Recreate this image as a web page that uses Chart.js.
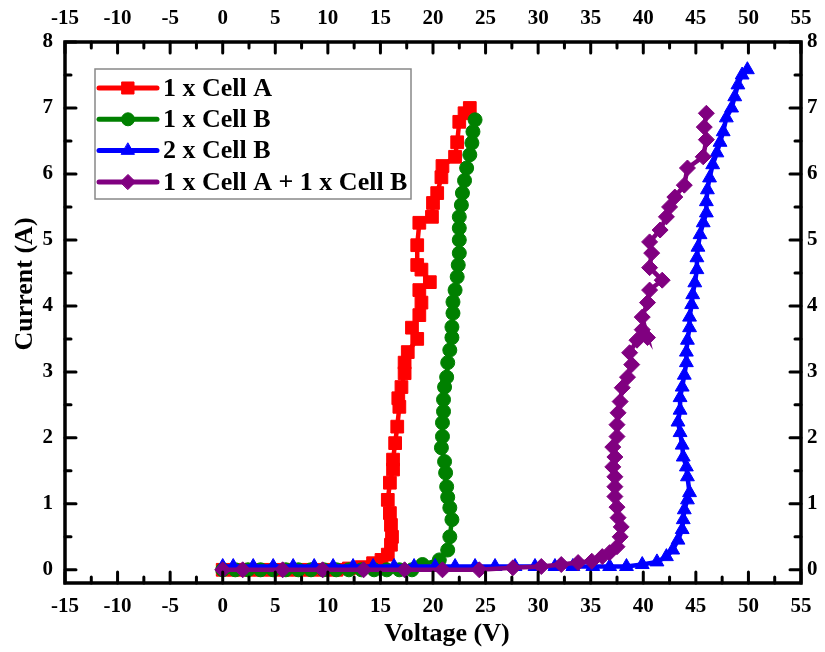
<!DOCTYPE html>
<html>
<head>
<meta charset="utf-8">
<script src="https://cdn.jsdelivr.net/npm/chart.js@4.4.1/dist/chart.umd.min.js"></script>
<style>
  html, body { margin: 0; padding: 0; background: #fff; }
</style>
</head>
<body>
<canvas id="iv-chart" width="825" height="652"></canvas>
<script>
// axis ticks
const xTickLabels = [-15, -10, -5, 0, 5, 10, 15, 20, 25, 30, 35, 40, 45, 50, 55];
const yTickLabels = [0, 1, 2, 3, 4, 5, 6, 7, 8];

const seriesNames = ['1 x Cell A', '1 x Cell B', '2 x Cell B', '1 x Cell A + 1 x Cell B'];

// 1 x Cell A (red squares)
const cellA_V = [0, 1.2, 2.4, 3.6, 4.8, 6.0, 7.2, 8.4, 9.6, 10.8, 12.0, 13.2,
  14.3, 15.1, 15.7, 16.0, 16.1, 16.0, 15.9, 15.7, 15.9, 16.2,
  16.2, 16.4, 16.6, 16.8, 16.7, 17.0, 17.3, 17.3, 17.6, 18.5,
  18.0, 18.7, 18.9, 18.7, 19.7, 18.9, 18.5, 18.5, 18.7, 19.9,
  20.0, 20.4, 20.8, 20.9, 22.1, 22.3, 22.5, 23.0, 23.5];
const cellA_I = [0, 0, 0, 0, 0, 0, 0, 0, 0, 0, 0.02, 0.04,
  0.1, 0.15, 0.23, 0.38, 0.5, 0.68, 0.86, 1.06, 1.32, 1.52,
  1.67, 1.92, 2.17, 2.47, 2.6, 2.77, 2.98, 3.14, 3.3, 3.5,
  3.67, 3.86, 4.05, 4.24, 4.36, 4.55, 4.62, 4.92, 5.26, 5.35,
  5.56, 5.71, 5.95, 6.12, 6.26, 6.48, 6.79, 6.92, 7.0];

// 1 x Cell B (green circles)
const cellB_V = [0, 1.2, 2.4, 3.6, 4.8, 6.0, 7.2, 8.4, 9.6, 10.8, 12.0, 13.2, 14.4, 15.6, 16.8, 18.0,
  19.0, 20.6, 21.4, 21.6, 21.8, 21.6, 21.4, 21.3, 21.2, 21.1,
  20.8, 20.9, 20.9, 21.0, 21.0, 21.1, 21.3, 21.4, 21.6, 21.8,
  21.8, 21.9, 21.9, 22.1, 22.3,
  22.4, 22.5, 22.5, 22.5, 22.5, 22.7, 22.8, 23.0, 23.2, 23.5, 23.7, 23.8, 24.0];
const cellB_I = [0, 0, 0, 0, 0, 0, 0, 0, 0, 0, 0, 0, 0, 0, 0, 0,
  0.08, 0.15, 0.3, 0.5, 0.76, 0.94, 1.1, 1.26, 1.47, 1.64,
  1.85, 2.02, 2.23, 2.4, 2.58, 2.77, 2.92, 3.14, 3.33, 3.52,
  3.68, 3.89, 4.06, 4.24, 4.44,
  4.62, 4.8, 5.0, 5.18, 5.35, 5.53, 5.71, 5.9, 6.09, 6.29, 6.47, 6.64, 6.82];

// 2 x Cell B (blue triangles)
const twoB_V = [0, 1.0, 2.9, 4.8, 6.7, 8.7, 10.5, 12.4, 14.3, 16.3, 18.2,
  20.2, 22.1, 24.0, 25.9, 27.8, 29.7, 31.6, 33.3, 35.2, 36.8,
  38.4, 39.9, 41.3, 42.2, 42.8, 43.3, 43.7, 43.8, 43.9, 44.2,
  44.4, 44.2, 44.1, 43.8, 43.7, 43.5, 43.3, 43.5, 43.5, 43.7,
  43.9, 44.1, 44.1, 44.2, 44.4, 44.4, 44.6, 44.7, 44.9, 45.1,
  45.1, 45.2, 45.4, 45.7, 46.0, 46.0, 46.1, 46.3, 46.6, 47.0,
  47.3, 47.6, 47.9, 48.4, 48.7, 49.0, 49.4, 49.9];
const twoB_I = [0.05, 0.05, 0.05, 0.05, 0.05, 0.05, 0.05, 0.05, 0.05, 0.05, 0.05,
  0.05, 0.05, 0.05, 0.05, 0.05, 0.05, 0.05, 0.05, 0.05, 0.05,
  0.05, 0.08, 0.12, 0.2, 0.3, 0.45, 0.61, 0.76, 0.91, 1.06,
  1.17, 1.41, 1.56, 1.71, 1.89, 2.08, 2.24, 2.42, 2.61, 2.77,
  2.95, 3.14, 3.3, 3.48, 3.67, 3.83, 4.02, 4.17, 4.35, 4.55,
  4.73, 4.89, 5.08, 5.26, 5.41, 5.58, 5.76, 5.94, 6.14, 6.32,
  6.48, 6.64, 6.85, 7.0, 7.17, 7.35, 7.5, 7.58];

// 1 x Cell A + 1 x Cell B (purple diamonds)
const mixAB_V = [0, 1.9, 5.7, 9.5, 13.4, 17.3, 20.9, 24.4, 27.6, 30.3, 32.2, 33.8, 35.1, 36.1, 36.8, 37.5,
  37.8, 37.9, 37.6, 37.5, 37.3, 37.3, 37.3, 37.1, 37.3, 37.1,
  37.5, 37.5, 37.6, 37.8, 38.0, 38.5, 38.9, 38.7, 39.4, 39.9,
  40.4, 39.9, 40.4, 40.6, 41.8, 40.6, 40.8, 40.6, 41.6, 42.2,
  42.5, 43.0, 43.9, 44.2, 45.7, 46.0, 45.8, 46.0];
const mixAB_I = [0, 0, 0, 0, 0, 0, 0, 0, 0.03, 0.05, 0.08, 0.11, 0.13, 0.2, 0.26, 0.35,
  0.5, 0.65, 0.79, 0.95, 1.11, 1.26, 1.41, 1.56, 1.71, 1.86,
  2.02, 2.2, 2.38, 2.55, 2.76, 2.92, 3.11, 3.29, 3.48, 3.64,
  3.52, 3.83, 4.05, 4.24, 4.39, 4.58, 4.8, 4.97, 5.15, 5.35,
  5.5, 5.65, 5.83, 6.09, 6.26, 6.52, 6.71, 6.92];

const FONT = '"Liberation Serif", "Times New Roman", serif';

function toPoints(vs, is) {
  return vs.map((v, i) => ({ x: v, y: is[i] }));
}

function makeSet(name, vs, is, color, style, radius, order) {
  return {
    label: name,
    data: toPoints(vs, is),
    borderColor: color,
    backgroundColor: color,
    borderWidth: 4.5,
    pointStyle: style,
    pointRadius: radius,
    pointBorderWidth: 1,
    pointBorderColor: color,
    pointBackgroundColor: color,
    tension: 0,
    order: order
  };
}

const datasets = [
  makeSet(seriesNames[0], cellA_V, cellA_I, '#ff0000', 'rect', 9, 4),
  makeSet(seriesNames[1], cellB_V, cellB_I, '#008000', 'circle', 7, 3),
  makeSet(seriesNames[2], twoB_V, twoB_I, '#0000ff', 'triangle', 8, 2),
  makeSet(seriesNames[3], mixAB_V, mixAB_I, '#800080', 'rectRot', 8, 1)
];

// frame with inward ticks, like the Origin plot
const framePlugin = {
  id: 'frame',
  afterDatasetsDraw(chart) {
    const { ctx, chartArea: a, scales } = chart;
    ctx.save();
    ctx.strokeStyle = '#000';
    ctx.lineCap = 'round';
    ctx.lineWidth = 3;
    ctx.beginPath();
    for (let v = -15; v <= 55.001; v += 2.5) {
      const px = scales.x.getPixelForValue(v);
      const len = (Math.abs(v % 5) < 0.01) ? 11 : 6;
      ctx.moveTo(px, a.bottom); ctx.lineTo(px, a.bottom - len);
      ctx.moveTo(px, a.top); ctx.lineTo(px, a.top + len);
    }
    for (let v = 0; v <= 8.001; v += 0.5) {
      const py = scales.y.getPixelForValue(v);
      const len = (Math.abs(v % 1) < 0.01) ? 11 : 6;
      ctx.moveTo(a.left, py); ctx.lineTo(a.left + len, py);
      ctx.moveTo(a.right, py); ctx.lineTo(a.right - len, py);
    }
    ctx.stroke();
    ctx.lineCap = 'butt';
    ctx.lineWidth = 3.5;
    ctx.strokeRect(a.left, a.top, a.right - a.left, a.bottom - a.top);
    ctx.restore();
  }
};

// legend box inside the plot and the axis titles
const legendPlugin = {
  id: 'boxLegend',
  afterDraw(chart) {
    const ctx = chart.ctx;
    ctx.save();
    ctx.fillStyle = '#fff';
    ctx.fillRect(95, 69, 316, 130);
    ctx.strokeStyle = '#888';
    ctx.lineWidth = 1.5;
    ctx.strokeRect(95, 69, 316, 130);
    chart.data.datasets.forEach((ds, i) => {
      const y = 88 + i * 31.3;
      ctx.strokeStyle = ds.borderColor;
      ctx.lineWidth = 5;
      ctx.lineCap = 'round';
      ctx.beginPath();
      ctx.moveTo(99, y); ctx.lineTo(157, y);
      ctx.stroke();
      ctx.fillStyle = ds.borderColor;
      ctx.lineWidth = 1;
      Chart.helpers.drawPoint(ctx, { pointStyle: ds.pointStyle, radius: ds.pointRadius - 0.5, rotation: 0, borderWidth: 1 }, 128, y);
      ctx.fillStyle = '#000';
      ctx.font = 'bold 26px ' + FONT;
      ctx.textBaseline = 'middle';
      ctx.textAlign = 'left';
      ctx.fillText(ds.label, 163, y + 1);
    });

    ctx.fillStyle = '#000';
    ctx.font = 'bold 26px ' + FONT;
    ctx.textAlign = 'center';
    ctx.textBaseline = 'middle';
    ctx.fillText('Voltage (V)', 447, 634);
    ctx.translate(25, 284);
    ctx.rotate(-Math.PI / 2);
    ctx.fillText('Current (A)', 0, 0);
    ctx.restore();
  }
};

const tickFont = { family: FONT, size: 21, weight: 'bold' };

function xScale(position, size) {
  return {
    type: 'linear',
    position: position,
    min: -15,
    max: 55,
    grid: { display: false, drawTicks: false },
    border: { display: false },
    ticks: { font: tickFont, color: '#000', padding: 11, maxRotation: 0, autoSkip: false, callback: v => String(v) },
    afterBuildTicks: s => { s.ticks = xTickLabels.map(v => ({ value: v })); },
    afterFit: s => { s.height = size; }
  };
}

function yScale(position, size, pad) {
  return {
    type: 'linear',
    position: position,
    min: -0.2,
    max: 8,
    grid: { display: false, drawTicks: false },
    border: { display: false },
    ticks: { font: tickFont, color: '#000', padding: pad, autoSkip: false, callback: v => String(v) },
    afterBuildTicks: s => { s.ticks = yTickLabels.map(v => ({ value: v })); },
    afterFit: s => { s.width = size; }
  };
}

new Chart(document.getElementById('iv-chart'), {
  type: 'line',
  data: { datasets: datasets },
  options: {
    responsive: false,
    animation: false,
    layout: { padding: 0 },
    plugins: { legend: { display: false }, tooltip: { enabled: false } },
    scales: {
      x: xScale('bottom', 69),
      x2: xScale('top', 42),
      y: yScale('left', 65, 12),
      y2: yScale('right', 24, 6)
    }
  },
  plugins: [framePlugin, legendPlugin]
});
</script>
</body>
</html>
